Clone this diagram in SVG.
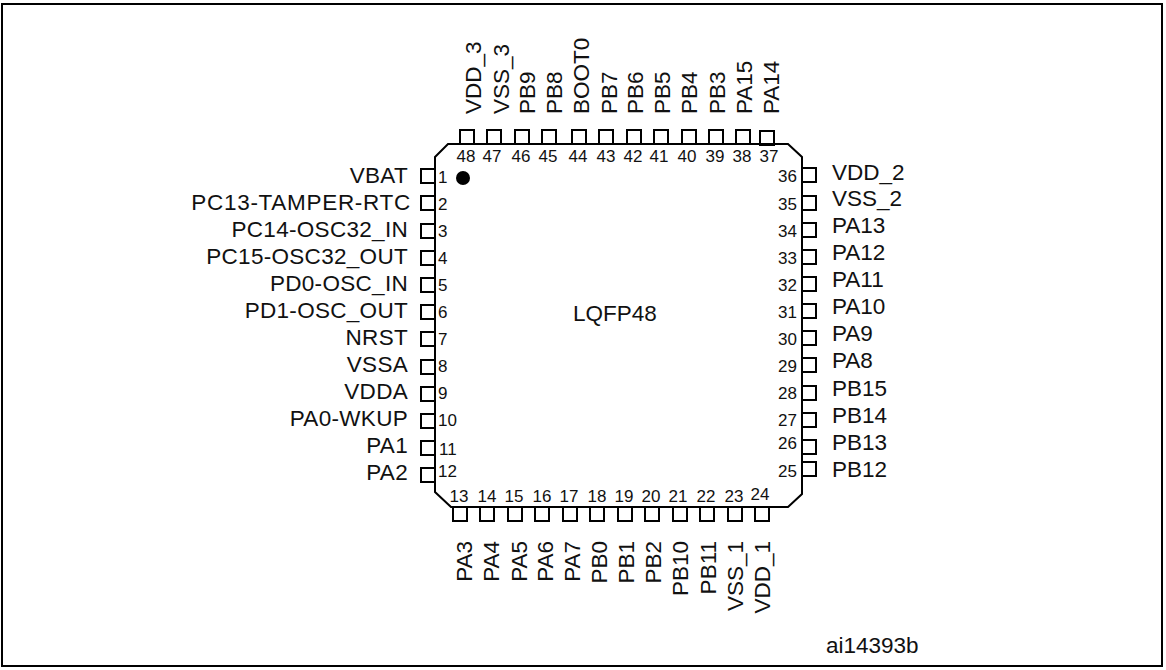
<svg xmlns="http://www.w3.org/2000/svg" width="1166" height="670" viewBox="0 0 1166 670">
<style>
text{font-family:"Liberation Sans",Arial,sans-serif;fill:#111}
.l{font-size:22.5px}
.w{letter-spacing:.3px}
.n{font-size:17px}
.p{fill:none;stroke:#000;stroke-width:2}
</style>
<defs>
<rect id="pin" class="p" width="14" height="14"/>
</defs>
<rect x="2" y="4" width="1160" height="662" fill="#fff" stroke="#000" stroke-width="2"/>
<g id="chip">
<path class="p" d="M435 157L448 144H788L802 157V494L788 507H451L435 492Z"/>
<circle cx="463" cy="178" r="7" fill="#000"/>
<text class="l" x="573" y="321">LQFP48</text>
</g>
<g id="pins-left">
<use href="#pin" x="421" y="169"/><use href="#pin" x="421" y="196"/><use href="#pin" x="421" y="224"/><use href="#pin" x="421" y="251"/><use href="#pin" x="421" y="278"/><use href="#pin" x="421" y="305"/><use href="#pin" x="421" y="332"/><use href="#pin" x="421" y="360"/><use href="#pin" x="421" y="387"/><use href="#pin" x="421" y="414"/><use href="#pin" x="421" y="441"/><use href="#pin" x="421" y="468"/>
<g class="l w" text-anchor="end">
<text x="408" y="183">VBAT</text><text x="411" y="210" style="letter-spacing:.7px">PC13-TAMPER-RTC</text><text x="408" y="237">PC14-OSC32_IN</text><text x="408" y="264">PC15-OSC32_OUT</text><text x="408" y="291">PD0-OSC_IN</text><text x="408" y="318">PD1-OSC_OUT</text><text x="408" y="345">NRST</text><text x="408" y="372">VSSA</text><text x="408" y="399">VDDA</text><text x="408" y="426">PA0-WKUP</text><text x="408" y="453">PA1</text><text x="408" y="480">PA2</text>
</g>
<g class="n">
<text x="438" y="183">1</text><text x="438" y="210">2</text><text x="438" y="237">3</text><text x="438" y="264">4</text><text x="438" y="291">5</text><text x="438" y="318">6</text><text x="438" y="345">7</text><text x="438" y="372">8</text><text x="438" y="399">9</text><text x="438" y="426">10</text><text x="439" y="455">11</text><text x="438" y="477">12</text>
</g>
</g>
<g id="pins-right">
<use href="#pin" x="802" y="168"/><use href="#pin" x="802" y="196"/><use href="#pin" x="802" y="223"/><use href="#pin" x="802" y="250"/><use href="#pin" x="802" y="277"/><use href="#pin" x="802" y="304"/><use href="#pin" x="802" y="331"/><use href="#pin" x="802" y="358"/><use href="#pin" x="802" y="386"/><use href="#pin" x="802" y="413"/><use href="#pin" x="802" y="440"/><use href="#pin" x="802" y="462"/>
<g class="l">
<text x="832" y="180">VDD_2</text><text x="832" y="206">VSS_2</text><text x="832" y="233">PA13</text><text x="832" y="260">PA12</text><text x="832" y="287">PA11</text><text x="832" y="314">PA10</text><text x="832" y="341">PA9</text><text x="832" y="368">PA8</text><text x="832" y="396">PB15</text><text x="832" y="423">PB14</text><text x="832" y="450">PB13</text><text x="832" y="477">PB12</text>
</g>
<g class="n" text-anchor="end">
<text x="797" y="182">36</text><text x="797" y="210">35</text><text x="797" y="237">34</text><text x="797" y="264">33</text><text x="797" y="291">32</text><text x="797" y="318">31</text><text x="797" y="345">30</text><text x="797" y="372">29</text><text x="797" y="399">28</text><text x="797" y="426">27</text><text x="797" y="449">26</text><text x="797" y="477">25</text>
</g>
</g>
<g id="pins-top">
<use href="#pin" x="460" y="130"/><use href="#pin" x="487" y="130"/><use href="#pin" x="515" y="130"/><use href="#pin" x="542" y="130"/><use href="#pin" x="572" y="130"/><use href="#pin" x="599" y="130"/><use href="#pin" x="627" y="130"/><use href="#pin" x="654" y="130"/><use href="#pin" x="682" y="130"/><use href="#pin" x="709" y="130"/><use href="#pin" x="736" y="130"/><use href="#pin" x="760" y="131"/>
<g class="l">
<text transform="translate(481 114) rotate(-90)">VDD_3</text><text transform="translate(509 114) rotate(-90)">VSS_3</text><text transform="translate(535 114) rotate(-90)">PB9</text><text transform="translate(562 114) rotate(-90)">PB8</text><text transform="translate(589 114) rotate(-90)">BOOT0</text><text transform="translate(617 114) rotate(-90)">PB7</text><text transform="translate(643 114) rotate(-90)">PB6</text><text transform="translate(670 114) rotate(-90)">PB5</text><text transform="translate(697 114) rotate(-90)">PB4</text><text transform="translate(725 114) rotate(-90)">PB3</text><text transform="translate(752 114) rotate(-90)">PA15</text><text transform="translate(779 114) rotate(-90)">PA14</text>
</g>
<g class="n" text-anchor="middle">
<text x="466" y="162">48</text><text x="492" y="162">47</text><text x="521" y="162">46</text><text x="548" y="162">45</text><text x="578" y="162">44</text><text x="606" y="162">43</text><text x="633" y="162">42</text><text x="659" y="162">41</text><text x="687" y="162">40</text><text x="715" y="162">39</text><text x="742" y="162">38</text><text x="769" y="162">37</text>
</g>
</g>
<g id="pins-bottom">
<use href="#pin" x="453" y="507"/><use href="#pin" x="480" y="507"/><use href="#pin" x="508" y="507"/><use href="#pin" x="535" y="507"/><use href="#pin" x="563" y="507"/><use href="#pin" x="590" y="507"/><use href="#pin" x="618" y="507"/><use href="#pin" x="645" y="507"/><use href="#pin" x="673" y="507"/><use href="#pin" x="700" y="507"/><use href="#pin" x="728" y="507"/><use href="#pin" x="755" y="507"/>
<g class="l" text-anchor="end">
<text transform="translate(472 541) rotate(-90)">PA3</text><text transform="translate(499 541) rotate(-90)">PA4</text><text transform="translate(527 541) rotate(-90)">PA5</text><text transform="translate(553 541) rotate(-90)">PA6</text><text transform="translate(580 541) rotate(-90)">PA7</text><text transform="translate(607 541) rotate(-90)">PB0</text><text transform="translate(634 541) rotate(-90)">PB1</text><text transform="translate(661 541) rotate(-90)">PB2</text><text transform="translate(688 541) rotate(-90)">PB10</text><text transform="translate(716 541) rotate(-90)">PB11</text><text transform="translate(743 541) rotate(-90)">VSS_1</text><text transform="translate(770 541) rotate(-90)">VDD_1</text>
</g>
<g class="n" text-anchor="middle">
<text x="459" y="502">13</text><text x="487" y="502">14</text><text x="514" y="502">15</text><text x="542" y="502">16</text><text x="569" y="502">17</text><text x="597" y="502">18</text><text x="624" y="502">19</text><text x="651" y="502">20</text><text x="678" y="502">21</text><text x="706" y="502">22</text><text x="734" y="502">23</text><text x="760" y="500">24</text>
</g>
</g>
<text class="l" x="826" y="653">ai14393b</text>
</svg>
